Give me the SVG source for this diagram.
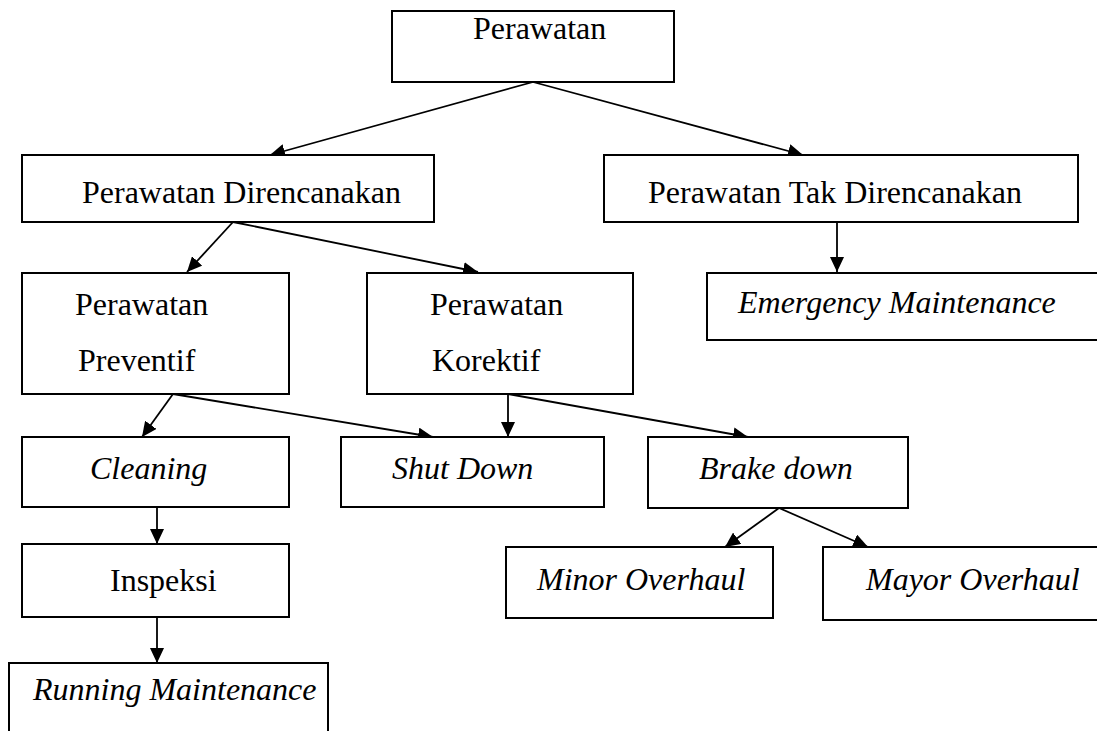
<svg xmlns="http://www.w3.org/2000/svg" width="1097" height="731" viewBox="0 0 1097 731">
<style>
.box{fill:#fff;stroke:#000;stroke-width:2}
.t{font-family:"Liberation Serif","Times New Roman",serif;font-size:32px;fill:#000}
.i{font-style:italic}
.c{stroke:#000;stroke-width:1.8;fill:none;marker-end:url(#ah)}
</style>
<defs>
<marker id="ah" markerUnits="userSpaceOnUse" markerWidth="16" markerHeight="14" refX="15" refY="7" orient="auto">
<path d="M0,0 L15,7 L0,14 Z" fill="#000"/>
</marker>
</defs>
<rect width="1097" height="731" fill="#fff"/>
<g id="connectors">
<line class="c" x1="533" y1="82" x2="270" y2="155"/>
<line class="c" x1="533" y1="82" x2="803" y2="155"/>
<line class="c" x1="233" y1="222" x2="187" y2="272"/>
<line class="c" x1="233" y1="222" x2="478" y2="272"/>
<line class="c" x1="837" y1="222" x2="837" y2="272"/>
<line class="c" x1="173" y1="394" x2="142" y2="437"/>
<line class="c" x1="173" y1="394" x2="433" y2="437"/>
<line class="c" x1="508" y1="394" x2="508" y2="437"/>
<line class="c" x1="508" y1="394" x2="748" y2="437"/>
<line class="c" x1="157" y1="507" x2="157" y2="544"/>
<line class="c" x1="157" y1="617" x2="157" y2="663"/>
<line class="c" x1="779" y1="508" x2="725" y2="547"/>
<line class="c" x1="779" y1="508" x2="868" y2="547"/>
</g>
<g id="perawatan">
<rect class="box" x="392" y="11" width="282" height="71"/>
<text class="t" x="473" y="39">Perawatan</text>
</g>
<g id="direncanakan">
<rect class="box" x="22" y="155" width="412" height="67"/>
<text class="t" x="82" y="203">Perawatan Direncanakan</text>
</g>
<g id="tak-direncanakan">
<rect class="box" x="604" y="155" width="474" height="67"/>
<text class="t" x="648" y="203">Perawatan Tak Direncanakan</text>
</g>
<g id="emergency">
<rect class="box" x="707" y="273" width="400" height="67"/>
<text class="t i" x="738" y="313">Emergency Maintenance</text>
</g>
<g id="preventif">
<rect class="box" x="22" y="273" width="267" height="121"/>
<text class="t" x="75" y="315">Perawatan</text>
<text class="t" x="78" y="371">Preventif</text>
</g>
<g id="korektif">
<rect class="box" x="367" y="273" width="266" height="121"/>
<text class="t" x="430" y="315">Perawatan</text>
<text class="t" x="432" y="371">Korektif</text>
</g>
<g id="cleaning">
<rect class="box" x="22" y="437" width="267" height="70"/>
<text class="t i" x="90" y="479">Cleaning</text>
</g>
<g id="shutdown">
<rect class="box" x="341" y="437" width="263" height="70"/>
<text class="t i" x="392" y="479">Shut Down</text>
</g>
<g id="brakedown">
<rect class="box" x="648" y="437" width="260" height="71"/>
<text class="t i" x="699" y="479">Brake down</text>
</g>
<g id="inspeksi">
<rect class="box" x="22" y="544" width="267" height="73"/>
<text class="t" x="110" y="591">Inspeksi</text>
</g>
<g id="minor">
<rect class="box" x="506" y="547" width="267" height="71"/>
<text class="t i" x="537" y="590">Minor Overhaul</text>
</g>
<g id="mayor">
<rect class="box" x="823" y="547" width="290" height="73"/>
<text class="t i" x="866" y="590">Mayor Overhaul</text>
</g>
<g id="running">
<rect class="box" x="9" y="663" width="319" height="90"/>
<text class="t i" x="33" y="700">Running Maintenance</text>
</g>
</svg>
